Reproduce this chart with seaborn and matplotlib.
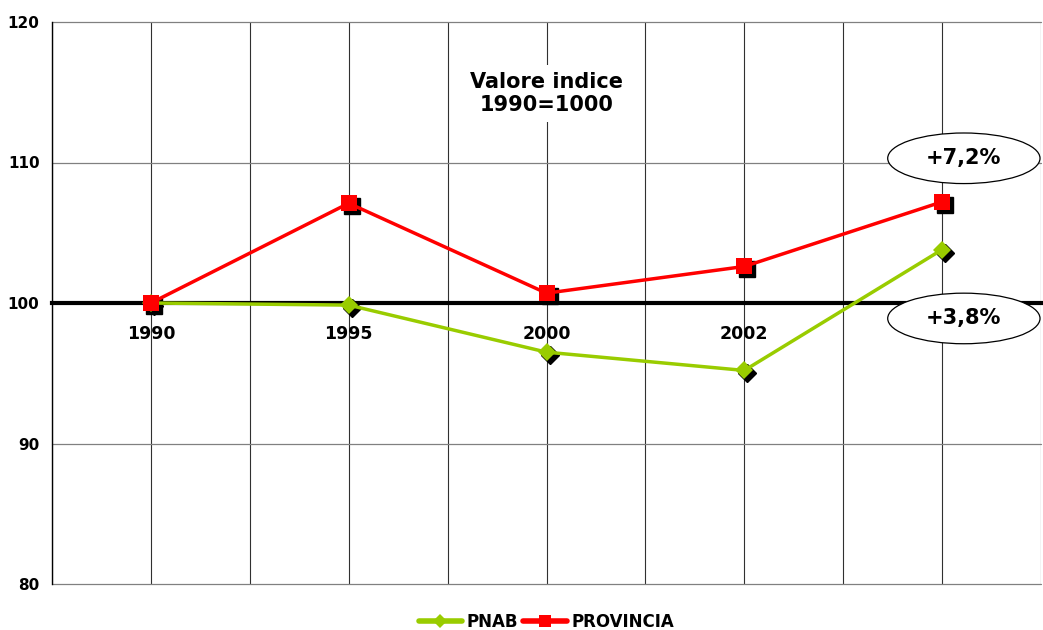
import numpy as np
import pandas as pd
import matplotlib
matplotlib.use("Agg")
import matplotlib.pyplot as plt
import matplotlib.transforms as mtransforms
from matplotlib.patches import Ellipse
import seaborn as sns

# data
years = ["1990", "1995", "2000", "2002", ""]
pnab = [100.0, 99.85, 96.5, 95.2, 103.8]
provincia = [100.0, 107.1, 100.7, 102.6, 107.2]
series_names = ["PNAB", "PROVINCIA"]
notes = ["+7,2%", "+3,8%"]
note_y = [110.3, 98.9]

colors = {"PNAB": "#99CC00", "PROVINCIA": "#FF0000"}
markers = {"PNAB": "D", "PROVINCIA": "s"}
msize = {"PNAB": 9, "PROVINCIA": 11}

pos = np.arange(len(years))
df = pd.DataFrame({
    "pos": np.concatenate([pos, pos]),
    "value": pnab + provincia,
    "serie": [series_names[0]] * len(pos) + [series_names[1]] * len(pos),
})

sns.set_style("white")
plt.rcParams['font.family'] = ['DejaVu Sans']
plt.rcParams['font.weight'] = 'bold'
plt.rcParams['text.color'] = 'black'
plt.rcParams['xtick.color'] = 'black'
plt.rcParams['ytick.color'] = 'black'

fig = plt.figure(figsize=(10.43, 6.3), dpi=100)
ax = fig.add_axes([52 / 1043, 1 - 584 / 630, (1041 - 52) / 1043, (584 - 22) / 630])

# shadow markers (offset black copies)
shadow = ax.transData + mtransforms.ScaledTranslation(3 / 100, -3 / 100, fig.dpi_scale_trans)
for name, vals in zip(series_names, [pnab, provincia]):
    ax.plot(pos, vals, ls="none", marker=markers[name], markersize=msize[name],
            color="black", transform=shadow, zorder=3)

sns.lineplot(data=df, x="pos", y="value", hue="serie", style="serie",
             palette=colors, markers=markers, dashes=False, linewidth=2.5,
             markeredgewidth=0, ax=ax, zorder=4)
for line, name in zip(ax.lines[len(series_names):], series_names):
    line.set_markersize(msize[name])

ax.set_xlim(-0.5, len(years) - 0.5)
ax.set_ylim(80, 120)
ax.set_yticks([80, 90, 100, 110, 120])
ax.set_xticks(np.arange(-0.5, len(years), 1.0))
ax.set_xticklabels([])
ax.set_xticks(pos, minor=True)
ax.set_xticklabels(years, minor=True)
ax.tick_params(axis="x", which="major", direction="inout", length=6, width=2, color="black")
ax.tick_params(axis="x", which="minor", length=0, pad=16, labelsize=12.5)
ax.tick_params(axis="y", direction="out", length=5, width=1, color="black", labelsize=11, pad=4)
ax.set_xlabel("")
ax.set_ylabel("")

ax.grid(True, axis="y", color="#808080", linewidth=0.9)
ax.grid(True, axis="x", which="both", color="#303030", linewidth=0.8)
ax.set_axisbelow(True)
for gl in ax.get_xgridlines() + ax.get_ygridlines():
    gl.set_clip_on(False)

for s in ["top", "right"]:
    ax.spines[s].set_visible(False)
ax.spines["left"].set_color("black")
ax.spines["left"].set_linewidth(1.0)
ax.spines["bottom"].set_position(("data", 100))
ax.spines["bottom"].set_color("black")
ax.spines["bottom"].set_linewidth(3)
ax.spines["bottom"].set_zorder(2.5)

ax.text(2, 114.9, "Valore indice\n1990=1000", ha="center", va="center",
        fontsize=15, fontweight="bold", linespacing=1.2,
        bbox=dict(facecolor="white", edgecolor="none", pad=5), zorder=3)

for txt, yy in zip(notes, note_y):
    e = Ellipse((4.11, yy), 0.77, 3.6, facecolor="white", edgecolor="black",
                linewidth=0.9, clip_on=False, zorder=5)
    ax.add_patch(e)
    ax.text(4.11, yy, txt, ha="center", va="center", fontsize=15,
            fontweight="bold", zorder=6)

sns.move_legend(ax, "lower center", bbox_to_anchor=(0.5, -0.11), ncol=2,
                frameon=False, title=None, handlelength=2.6, columnspacing=0.3,
                handletextpad=0.3, fontsize=12)
for h, size in zip(ax.get_legend().legend_handles, [7, 8.5]):
    h.set_markersize(size)
    h.set_linewidth(4)

fig.savefig("out.png", dpi=100)
